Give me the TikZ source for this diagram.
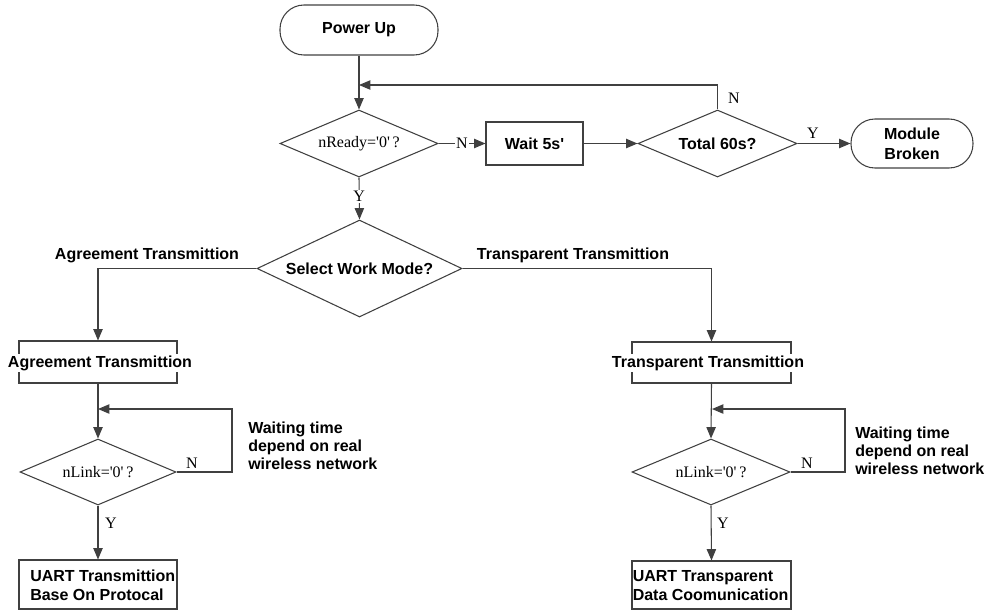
\documentclass[tikz,border=0pt]{standalone}
\usepackage{fontspec}
\setmainfont{Liberation Sans}
\newfontfamily\serifx{Liberation Serif}
\usetikzlibrary{shapes.geometric,arrows.meta}
\begin{document}
\begin{tikzpicture}[x=0.75pt,y=-0.75pt,
  every node/.style={font=\fontsize{12}{14}\selectfont\bfseries, text=black},
  ln/.style={draw=black!75, line width=0.8pt},
  arr/.style={ln,-{Triangle[length=8.5pt,width=7pt]}},
  term/.style={ln, rectangle, rounded corners=18pt, inner sep=0pt, align=center},
  dec/.style={ln, diamond, inner sep=0pt},
  proc/.style={ln, rectangle, inner sep=0pt},
  lab/.style={font=\serifx\fontsize{12}{14}\selectfont, inner sep=1pt},
  wlab/.style={lab, fill=white},
  ovr/.style={fill=white, inner sep=1pt},
  note/.style={align=left, anchor=west, inner sep=0pt, font=\fontsize{12}{13.5}\selectfont\bfseries}
]
\useasboundingbox (0,0) rectangle (985,612);

% top row
\node[term, minimum width={158*0.75pt}, minimum height={50*0.75pt}] (pu) at (359,30) {Power Up};
\node[dec, shape aspect=2.36, minimum width={158*0.75pt}, minimum height={67*0.75pt}, font=\serifx\fontsize{12}{14}\selectfont] (nr) at (359,143.5) {nReady=\textquotesingle0\textquotesingle\,?};
\node[proc, minimum width={97*0.75pt}, minimum height={43*0.75pt}] (wait) at (534.5,143.5) {Wait 5s\textquotesingle};
\node[dec, shape aspect=2.37, minimum width={159*0.75pt}, minimum height={67*0.75pt}] (tot) at (717.5,143.5) {Total 60s?};
\node[term, minimum width={122*0.75pt}, minimum height={49*0.75pt}, font=\fontsize{12}{15}\selectfont\bfseries] (mb) at (912,143.5) {Module\\Broken};

% select
\node[dec, shape aspect=2.11, minimum width={205*0.75pt}, minimum height={97*0.75pt}] (sel) at (359.5,268.5) {Select Work Mode?};

% left branch
\node[proc, minimum width={158*0.75pt}, minimum height={42*0.75pt}] (ab) at (98,362) {};
\node[ovr] (abt) at (100,363) {Agreement Transmittion};
\node[dec, shape aspect=2.36, minimum width={156*0.75pt}, minimum height={66*0.75pt}, font=\serifx\fontsize{12}{14}\selectfont] (aln) at (98,472) {nLink=\textquotesingle0\textquotesingle\,?};
\node[proc, minimum width={158*0.75pt}, minimum height={49*0.75pt}] (au) at (98,584.5) {};
\node[note, font=\fontsize{12}{14.25}\selectfont\bfseries] (aut) at (30,585) {UART Transmittion\\Base On Protocal};

% right branch
\node[proc, minimum width={159*0.75pt}, minimum height={41*0.75pt}] (tb) at (711.5,362.5) {};
\node[ovr] (tbt) at (708,363) {Transparent Transmittion};
\node[dec, shape aspect=2.36, minimum width={158*0.75pt}, minimum height={66*0.75pt}, font=\serifx\fontsize{12}{14}\selectfont] (tln) at (711,472) {nLink=\textquotesingle0\textquotesingle\,?};
\node[proc, minimum width={159*0.75pt}, minimum height={48*0.75pt}] (tu) at (711.5,585) {};
\node[note, font=\fontsize{12}{14.25}\selectfont\bfseries] (tut) at (632.5,585.5) {UART Transparent\\Data Coomunication};

% connectors top
\coordinate (j1) at (359,85);
\draw[arr] (pu.south) -- (nr.north);
\draw[arr] (tot.north) |- (j1);
\draw[arr] (nr.east) -- node[wlab] (ln1) {N} (wait.west);
\draw[arr] (wait.east) -- (tot.west);
\draw[arr] (tot.east) -- (mb.west);
\node[lab] (ly1) at (813,133) {Y};
\node[lab] (ln2) at (734,98) {N};
\draw[arr] (nr.south) -- node[wlab, pos=0.45] (ly2) {Y} (sel.north);

% branches
\draw[arr] (sel.west) -| (ab.north);
\draw[arr] (sel.east) -| (tb.north);
\node (lagr) at (147,255) {Agreement Transmittion};
\node (ltra) at (573,255) {Transparent Transmittion};

% left loop
\coordinate (aj) at (98,409);
\coordinate (ac) at (232,409);
\draw[arr] (ab.south) -- (aln.north);
\draw[arr] (aln.east) -| (ac) -- (aj);
\node[lab] (aN) at (192,463) {N};
\draw[arr] (aln.south) -- (au.north);
\node[lab] (aY) at (111,523) {Y};
\node[note] (aw) at (248,446) {Waiting time\\depend on real\\wireless network};

% right loop
\coordinate (tj) at (712,409);
\coordinate (tc) at (845,409);
\draw[arr] (tb.south) -- (tln.north);
\draw[arr] (tln.east) -| (tc) -- (tj);
\node[lab] (tN) at (807,463) {N};
\draw[arr] (tln.south) -- (tu.north);
\node[lab] (tY) at (723,523) {Y};
\node[note] (tw) at (855,451) {Waiting time\\depend on real\\wireless network};
\end{tikzpicture}
\end{document}
